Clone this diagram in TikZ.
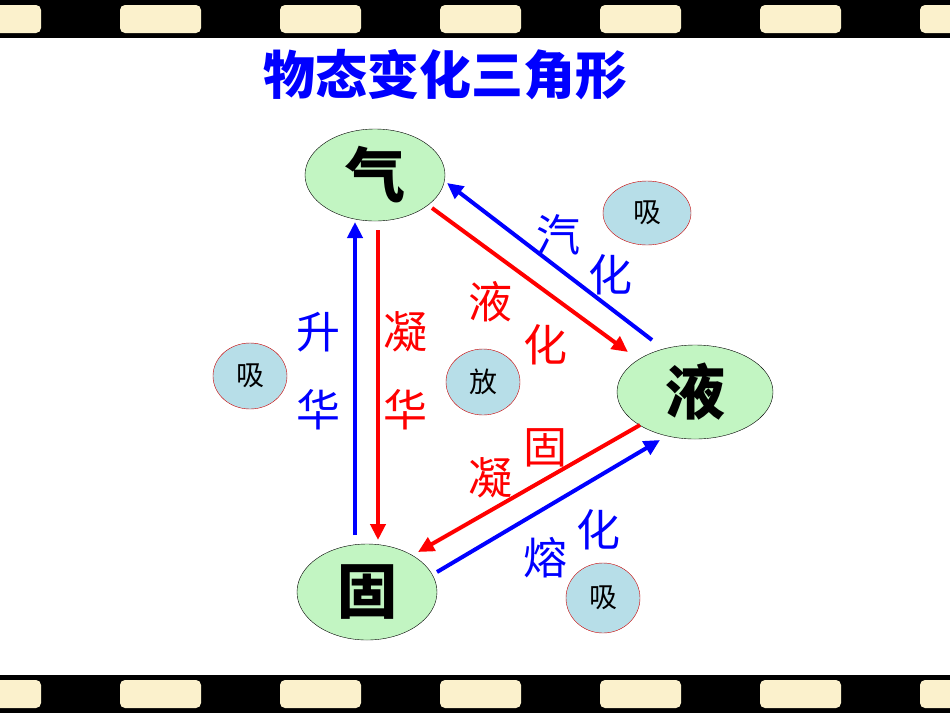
\documentclass[tikz,border=0pt]{standalone}
\usepackage{fontspec}
\setmainfont{Noto Sans CJK SC}
\usetikzlibrary{shapes.geometric,arrows.meta}
\definecolor{gfill}{HTML}{C2F5C2}
\definecolor{bfill}{HTML}{B7DEE8}
\definecolor{cream}{HTML}{FBF1CC}
\tikzset{
 big/.style={ellipse,draw=black,fill=gfill,minimum width=140pt,minimum height=92pt,inner sep=0pt,font=\fontsize{60}{60}\selectfont\bfseries},
 small/.style={ellipse,draw=red!80!black,fill=bfill,inner sep=0pt,font=\fontsize{28}{28}\selectfont},
 lab/.style={font=\fontsize{44}{44}\selectfont},
 arr/.style={line width=4pt,-{Triangle[length=16pt,width=15pt]}},
 hole/.style={fill=cream,rounded corners=5pt}
}
\begin{document}
\begin{tikzpicture}[x=1pt,y=-1pt]
\useasboundingbox (0,0) rectangle (950,713);
\fill[white] (0,0) rectangle (950,713);
\fill[black] (0,0) rectangle (950,38);
\fill[black] (0,675) rectangle (950,713);
\foreach \x in {-40,120,280,440,600,760,920}{
 \fill[hole] (\x,5) rectangle (\x+81,33);
 \fill[hole] (\x,680) rectangle (\x+81,708);
}
\node[text=blue,font=\fontsize{52}{52}\selectfont\bfseries] (t) at (445,75) {物态变化三角形};
\node[big] (g) at (375,175) {气};
\node[big,minimum width=156pt,minimum height=94pt] (l) at (695,392) {液};
\node[big,minimum height=96pt] (s) at (367,592) {固};
\node[small,minimum width=88pt,minimum height=64pt] (c1) at (647,213) {吸};
\node[small,minimum width=74pt,minimum height=66pt] (c2) at (250,376) {吸};
\node[small,minimum width=74pt,minimum height=66pt] (c3) at (483,382) {放};
\node[small,minimum width=74pt,minimum height=70pt] (c4) at (603,598) {吸};
\coordinate (a1) at (355,535); \coordinate (a2) at (355,222);
\coordinate (b1) at (378,230); \coordinate (b2) at (378,540);
\coordinate (c1s) at (432,208); \coordinate (c1e) at (628,352);
\coordinate (d1) at (652,340); \coordinate (d2) at (447,183);
\coordinate (e1) at (640,425); \coordinate (e2) at (418,552);
\coordinate (f1) at (437,572); \coordinate (f2) at (660,440);
\draw[arr,blue] (a1) -- (a2);
\draw[arr,red] (b1) -- (b2);
\draw[arr,red] (c1s) -- (c1e);
\draw[arr,blue] (d1) -- (d2);
\draw[arr,red] (e1) -- (e2);
\draw[arr,blue] (f1) -- (f2);
\node[lab,text=blue] (u1) at (318,332) {升};
\node[lab,text=blue] (u2) at (318,410) {华};
\node[lab,text=red] (v1) at (405,332) {凝};
\node[lab,text=red] (v2) at (405,410) {华};
\node[lab,text=red] (w1) at (490,302) {液};
\node[lab,text=red] (w2) at (545,345) {化};
\node[lab,text=blue] (x1) at (558,235) {汽};
\node[lab,text=blue] (x2) at (610,275) {化};
\node[lab,text=red] (y1) at (545,448) {固};
\node[lab,text=red] (y2) at (490,478) {凝};
\node[lab,text=blue] (z1) at (545,558) {熔};
\node[lab,text=blue] (z2) at (598,530) {化};
\end{tikzpicture}
\end{document}
